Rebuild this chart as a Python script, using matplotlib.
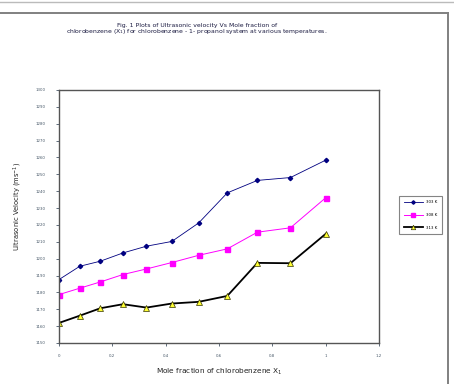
import matplotlib
matplotlib.use("Agg")
import matplotlib.pyplot as plt
from matplotlib.lines import Line2D

x_frac = [0, 0.078, 0.155, 0.24, 0.328, 0.423, 0.524, 0.631, 0.744, 0.868, 1.0]
v303 = [1187.6, 1195.5, 1198.5, 1203.4, 1207.4, 1210.2, 1221.2, 1239.0, 1246.4, 1248.1, 1258.4]
v308 = [1178.7, 1182.5, 1186.2, 1190.6, 1193.9, 1197.7, 1202.0, 1205.8, 1215.7, 1218.3, 1236.1]
v313 = [1161.9, 1166.2, 1170.6, 1173.0, 1171.0, 1173.4, 1174.4, 1177.9, 1197.5, 1197.3, 1214.7]
labels = ["303 K", "308 K", "313 K"]
xticks = [0, 0.2, 0.4, 0.6, 0.8, 1.0, 1.2]
xticklabels = ["0", "0.2", "0.4", "0.6", "0.8", "1", "1.2"]
yticks = list(range(1150, 1301, 10))

W, H = 454, 384
fig = plt.figure(figsize=(W / 100, H / 100), dpi=100)
ax = fig.add_axes([59 / W, 1 - 343 / H, (379 - 59) / W, (343 - 90) / H])

ax.plot(x_frac, v303, color="#000080", lw=0.6, marker="D", ms=2.2,
        mfc="#000080", mec="#000080", label=labels[0])
ax.plot(x_frac, v308, color="#FF00FF", lw=0.7, marker="s", ms=3.6,
        mfc="#FF00FF", mec="#FF00FF", label=labels[1])
ax.plot(x_frac, v313, color="black", lw=1.3, marker="^", ms=4,
        mfc="#FFFF33", mec="#333300", mew=0.5, label=labels[2])

ax.set_xlim(0, 1.2)
ax.set_ylim(1150, 1300)
ax.set_xticks(xticks)
ax.set_xticklabels(xticklabels)
ax.set_yticks(yticks)
ax.tick_params(axis="both", labelsize=2.8, length=2, width=0.6, colors="#445566",
               direction="out", pad=6)
ax.tick_params(axis="y", pad=8)
for s in ax.spines.values():
    s.set_color("#555555")
    s.set_linewidth(1.0)

ax.set_xlabel("Mole fraction of chlorobenzene X$_1$", fontsize=5.3, color="#222222",
              labelpad=6)
fig.text(18 / W, 1 - 206 / H, "Ultrasonic Velocity (ms$^{-1}$)", rotation=90,
         fontsize=4.9, color="#222222", ha="center", va="center")

fig.text(197 / W, 1 - 25 / H, "Fig. 1 Plots of Ultrasonic velocity Vs Mole fraction of",
         fontsize=4.4, color="#1a1a40", ha="center", va="center")
fig.text(197 / W, 1 - 32 / H,
         "chlorobenzene (X$_1$) for chlorobenzene - 1- propanol system at various temperatures.",
         fontsize=4.4, color="#1a1a40", ha="center", va="center")

leg = fig.legend(loc="center", bbox_to_anchor=(420.5 / W, 1 - 215 / H), fontsize=2.8,
                 frameon=True, fancybox=False, handlelength=5, borderpad=1.2,
                 labelspacing=2.2, markerscale=0.8)
leg.get_frame().set_edgecolor("#666666")
leg.get_frame().set_linewidth(0.8)

# outer borders
fig.add_artist(Line2D([0, 1], [1 - 1.5 / H, 1 - 1.5 / H], transform=fig.transFigure,
                      color="#bbbbbb", lw=1.0))
fig.add_artist(Line2D([0, 448 / W], [1 - 13 / H, 1 - 13 / H], transform=fig.transFigure,
                      color="#808080", lw=1.4))
fig.add_artist(Line2D([447.5 / W, 447.5 / W], [1 - 13 / H, 0], transform=fig.transFigure,
                      color="#808080", lw=1.4))

fig.savefig("out.png", dpi=100)
